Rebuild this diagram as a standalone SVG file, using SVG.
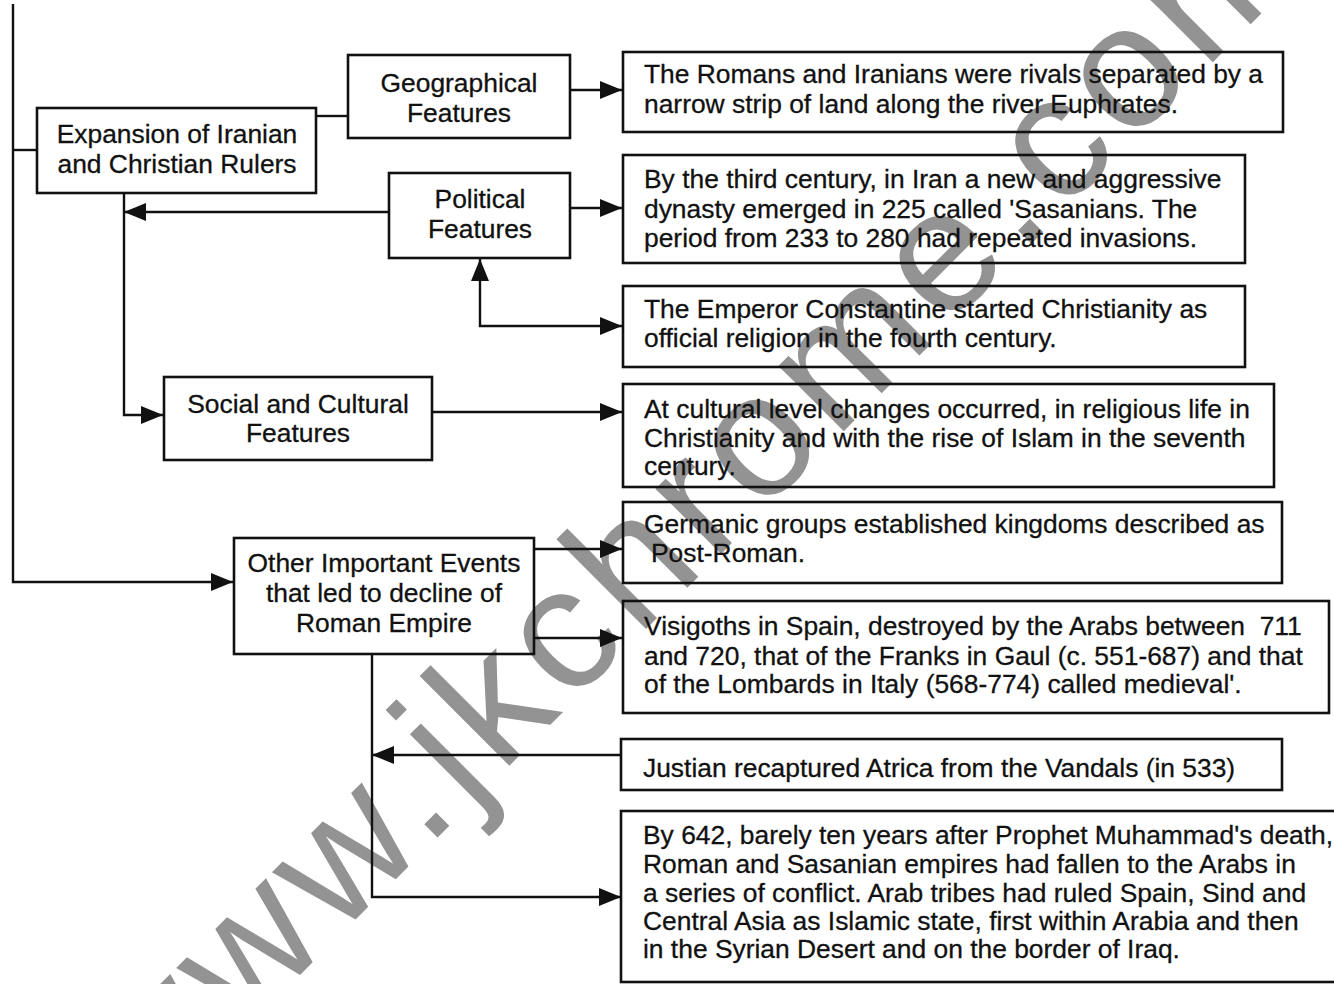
<svg xmlns="http://www.w3.org/2000/svg" width="1334" height="984" viewBox="0 0 1334 984">
  <style>
    .box { fill: none; stroke: #111; stroke-width: 2.6; }
    .wire { fill: none; stroke: #111; stroke-width: 2.4; }
    .lbl { font-family: "Liberation Sans", Arial, sans-serif; font-size: 26.4px; fill: #111; stroke: #111; stroke-width: 0.3; }
    .mid { text-anchor: middle; }
    .wm { font-family: "Liberation Sans", Arial, sans-serif; font-size: 175px; letter-spacing: 9px; fill: #939393; }
  </style>
  <defs>
    <marker id="arrow" markerUnits="userSpaceOnUse" markerWidth="24" markerHeight="20" refX="22" refY="9" orient="auto-start-reverse">
      <path d="M0,0 L22,9 L0,18 Z" fill="#111"/>
    </marker>
  </defs>

  <rect width="1334" height="984" fill="#fff"/>

  <!-- watermark -->
  <text class="wm" transform="translate(146,1129) rotate(-45)">www.jkchrome.com</text>

  <!-- connectors -->
  <g id="connectors">
    <path class="wire" d="M13,4 V582 H233" marker-end="url(#arrow)"/>
    <path class="wire" d="M13,150 H37"/>
    <path class="wire" d="M316,116 H348"/>
    <path class="wire" d="M570,90 H622" marker-end="url(#arrow)"/>
    <path class="wire" d="M570,208 H622" marker-end="url(#arrow)"/>
    <path class="wire" d="M389,212 H124" marker-end="url(#arrow)"/>
    <path class="wire" d="M124,193 V415 H163" marker-end="url(#arrow)"/>
    <path class="wire" d="M480,259 V326 H622" marker-start="url(#arrow)" marker-end="url(#arrow)"/>
    <path class="wire" d="M432,412 H622" marker-end="url(#arrow)"/>
    <path class="wire" d="M534,549 H622" marker-end="url(#arrow)"/>
    <path class="wire" d="M534,638 H622" marker-end="url(#arrow)"/>
    <path class="wire" d="M372,654 V897 H621" marker-end="url(#arrow)"/>
    <path class="wire" d="M621,755 H372" marker-end="url(#arrow)"/>
  </g>

  <!-- left column -->
  <g id="expansion">
    <rect class="box" x="37" y="108" width="279" height="85"/>
    <text class="lbl mid" x="177" y="143">Expansion of Iranian</text>
    <text class="lbl mid" x="177" y="173">and Christian Rulers</text>
  </g>
  <g id="geographical">
    <rect class="box" x="348" y="55" width="222" height="83"/>
    <text class="lbl mid" x="459" y="92">Geographical</text>
    <text class="lbl mid" x="459" y="122">Features</text>
  </g>
  <g id="political">
    <rect class="box" x="389" y="173" width="181" height="85"/>
    <text class="lbl mid" x="480" y="208">Political</text>
    <text class="lbl mid" x="480" y="238">Features</text>
  </g>
  <g id="social">
    <rect class="box" x="164" y="377" width="268" height="83"/>
    <text class="lbl mid" x="298" y="413">Social and Cultural</text>
    <text class="lbl mid" x="298" y="442">Features</text>
  </g>
  <g id="other-events">
    <rect class="box" x="234" y="538" width="300" height="116"/>
    <text class="lbl mid" x="384" y="572">Other Important Events</text>
    <text class="lbl mid" x="384" y="602">that led to decline of</text>
    <text class="lbl mid" x="384" y="632">Roman Empire</text>
  </g>

  <!-- right column -->
  <g id="romans-iranians">
    <rect class="box" x="623" y="52" width="660" height="80"/>
    <text class="lbl" x="644" y="83">The Romans and Iranians were rivals separated by a</text>
    <text class="lbl" x="644" y="113">narrow strip of land along the river Euphrates.</text>
  </g>
  <g id="sasanians">
    <rect class="box" x="623" y="155" width="622" height="108"/>
    <text class="lbl" x="644" y="188">By the third century, in Iran a new and aggressive</text>
    <text class="lbl" x="644" y="218">dynasty emerged in 225 called 'Sasanians. The</text>
    <text class="lbl" x="644" y="247">period from 233 to 280 had repeated invasions.</text>
  </g>
  <g id="constantine">
    <rect class="box" x="623" y="286" width="622" height="81"/>
    <text class="lbl" x="644" y="318">The Emperor Constantine started Christianity as</text>
    <text class="lbl" x="644" y="347">official religion in the fourth century.</text>
  </g>
  <g id="cultural-level">
    <rect class="box" x="623" y="384" width="651" height="103"/>
    <text class="lbl" x="644" y="418">At cultural level changes occurred, in religious life in</text>
    <text class="lbl" x="644" y="447">Christianity and with the rise of Islam in the seventh</text>
    <text class="lbl" x="644" y="475">century.</text>
  </g>
  <g id="germanic">
    <rect class="box" x="623" y="502" width="659" height="81"/>
    <text class="lbl" x="644" y="533">Germanic groups established kingdoms described as</text>
    <text class="lbl" x="651" y="562">Post-Roman.</text>
  </g>
  <g id="visigoths">
    <rect class="box" x="623" y="601" width="706" height="112"/>
    <text class="lbl" x="644" y="635" xml:space="preserve">Visigoths in Spain, destroyed by the Arabs between  711</text>
    <text class="lbl" x="644" y="665">and 720, that of the Franks in Gaul (c. 551-687) and that</text>
    <text class="lbl" x="644" y="693">of the Lombards in Italy (568-774) called medieval'.</text>
  </g>
  <g id="justian">
    <rect class="box" x="621" y="739" width="661" height="51"/>
    <text class="lbl" x="643" y="777">Justian recaptured Atrica from the Vandals (in 533)</text>
  </g>
  <g id="arab-conquest">
    <rect class="box" x="621" y="811" width="720" height="171"/>
    <text class="lbl" x="643" y="844">By 642, barely ten years after Prophet Muhammad's death,</text>
    <text class="lbl" x="643" y="873">Roman and Sasanian empires had fallen to the Arabs in</text>
    <text class="lbl" x="643" y="902">a series of conflict. Arab tribes had ruled Spain, Sind and</text>
    <text class="lbl" x="643" y="930">Central Asia as Islamic state, first within Arabia and then</text>
    <text class="lbl" x="643" y="958">in the Syrian Desert and on the border of Iraq.</text>
  </g>
</svg>
